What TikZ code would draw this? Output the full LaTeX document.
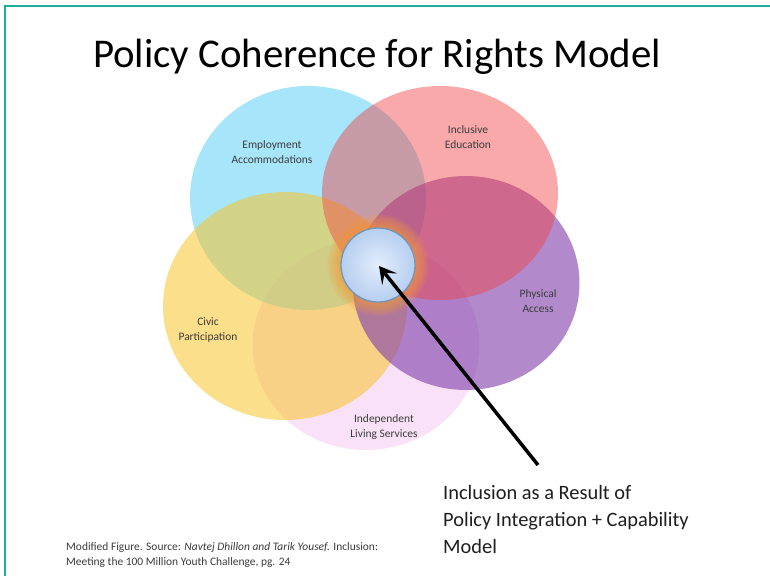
\documentclass[tikz,border=0pt]{standalone}
\usepackage{fontspec}
\setmainfont{Carlito}
\usetikzlibrary{shapes.geometric,arrows.meta}

\definecolor{frameteal}{RGB}{26,176,154}
\definecolor{skyblue}{RGB}{107,213,247}
\definecolor{rosered}{RGB}{243,61,61}
\definecolor{violet}{RGB}{127,60,170}
\definecolor{sunyellow}{RGB}{248,196,39}
\definecolor{lilac}{RGB}{245,197,241}
\definecolor{glow}{RGB}{248,160,60}
\definecolor{hubfill}{RGB}{226,237,252}
\definecolor{hubedge}{RGB}{182,206,240}
\definecolor{hubline}{RGB}{110,150,190}
\definecolor{labelgray}{RGB}{60,60,60}

\tikzset{
  petal/.style={ellipse, draw=none, inner sep=0pt},
  petaltext/.style={font=\fontsize{11.5}{14.5}\selectfont, text=labelgray, align=center, inner sep=0pt},
}

\begin{document}
\begin{tikzpicture}[x=1bp, y=-1bp]
  % canvas and frame
  \fill[white] (0,0) rectangle (770,576);
  \useasboundingbox (0,0) rectangle (770,576);
  \draw[frameteal, line width=2.5bp] (5,576) -- (5,6) -- (770,6);

  % title
  \node[font=\fontsize{41}{48}\selectfont, anchor=base] (title) at (377,68) {Policy Coherence for Rights Model};

  % overlapping policy areas
  \node[petal, fill=lilac, fill opacity=0.5, minimum width=227bp, minimum height=210bp] (living) at (366,345) {};
  \node[petal, fill=skyblue, fill opacity=0.6, minimum width=236bp, minimum height=224bp] (employ) at (308,198) {};
  \node[petal, fill=sunyellow, fill opacity=0.54, minimum width=244bp, minimum height=228bp] (civic) at (285,306) {};
  \node[petal, fill=violet, fill opacity=0.6, minimum width=227bp, minimum height=214bp] (physical) at (466,283) {};
  \node[petal, fill=rosered, fill opacity=0.44, minimum width=236bp, minimum height=214bp] (educ) at (440,193) {};

  % area labels
  \node[petaltext] (lemploy) at (272,152) {Employment\\Accommodations};
  \node[petaltext] (leduc) at (468,137) {Inclusive\\Education};
  \node[petaltext] (lphys) at (538,301) {Physical\\Access};
  \node[petaltext] (lcivic) at (208,330) {Civic\\Participation};
  \node[petaltext] (lliving) at (384,427) {Independent\\Living Services};

  % glowing hub in the middle
  \foreach \r in {51,50,...,38}
    \fill[glow, fill opacity=0.07] (378,265) circle [radius=\r bp];
  \node[circle, minimum size=74bp, inner sep=0pt, draw=hubline, line width=1.3bp,
        inner color=hubfill, outer color=hubedge] (hub) at (378,265) {};

  % pointer to the hub
  \coordinate (tip) at (379,266);
  \coordinate (tail) at (538,465);
  \draw[line width=3.5bp, -{Stealth[length=17bp, width=19bp, inset=8bp]}] (tail) -- (tip);

  % caption
  \node[font=\fontsize{20.5}{27}\selectfont, align=left, anchor=north west, inner sep=0pt, text=black!88] (result) at (443,485)
    {Inclusion as a Result of\\Policy Integration + Capability\\Model};

  % source note
  \node[font=\fontsize{11.5}{15}\selectfont, align=left, anchor=north west, inner sep=0pt, text=labelgray] (source) at (66,542)
    {Modified Figure. Source: \textit{Navtej Dhillon and Tarik Yousef.} Inclusion:\\Meeting the 100 Million Youth Challenge, pg. 24};
\end{tikzpicture}
\end{document}
